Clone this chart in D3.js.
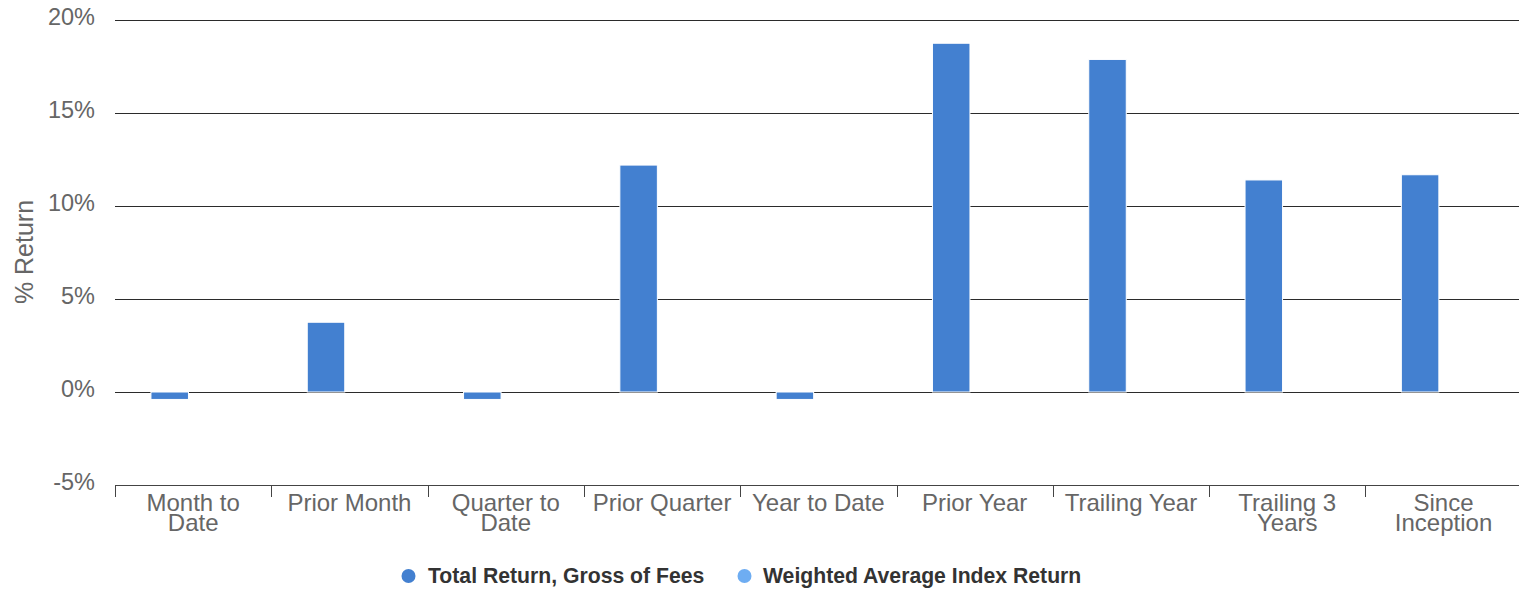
<!DOCTYPE html>
<html>
<head>
<meta charset="utf-8">
<script src="https://cdn.jsdelivr.net/npm/d3@7"></script>
<style>
  html, body { margin: 0; padding: 0; background: #fff; }
  svg { display: block; font-family: "Liberation Sans", Arial, Helvetica, sans-serif; }
</style>
</head>
<body>
<svg id="chart" width="1519" height="590"></svg>
<script>
const categories = [
  ["Month to", "Date"],
  ["Prior Month"],
  ["Quarter to", "Date"],
  ["Prior Quarter"],
  ["Year to Date"],
  ["Prior Year"],
  ["Trailing Year"],
  ["Trailing 3", "Years"],
  ["Since", "Inception"]
];
const seriesNames = ["Total Return, Gross of Fees", "Weighted Average Index Return"];
const totalReturn = [-0.4, 3.75, -0.4, 12.2, -0.4, 18.75, 17.88, 11.4, 11.68];
const indexReturn = [null, null, null, null, null, null, null, null, null];
const seriesColors = ["#4380d0", "#6eadf2"];
const yTicks = [-5, 0, 5, 10, 15, 20];

(function () {
const svg = d3.select("#chart");
const pLeft = 115, pRight = 1521.7, pTop = 20, pBottom = 485;

const catKeys = categories.map(c => c.join(" "));
const x0 = d3.scaleBand().domain(catKeys).range([pLeft, pRight]).padding(0);
const bw = x0.bandwidth();
const x1 = d3.scaleBand().domain(seriesNames)
  .range([0.2 * bw, 0.8 * bw]).paddingInner(0.2).paddingOuter(0.1);
const y = d3.scaleLinear().domain([-5, 20]).range([pBottom, pTop]);

// Gridlines
const grid = svg.append("g");
grid.selectAll("line").data(yTicks.filter(t => t !== -5)).join("line")
  .attr("x1", pLeft).attr("x2", 1519)
  .attr("y1", d => Math.round(y(d)) + 0.5).attr("y2", d => Math.round(y(d)) + 0.5)
  .attr("stroke", "#2b2b2b").attr("stroke-width", 1);

// Y axis labels
const yAxis = d3.axisLeft(y).tickValues(yTicks).tickFormat(d => d + "%").tickSize(0).tickPadding(0);
const yg = svg.append("g").attr("transform", `translate(95,0)`).call(yAxis);
yg.select(".domain").remove();
yg.selectAll("text")
  .attr("font-size", 23.5).attr("fill", "#666")
  .attr("font-family", "'Liberation Sans', Arial, sans-serif")
  .attr("dy", "0.2em");

// Y title
svg.append("text")
  .attr("transform", `translate(33,252) rotate(-90)`)
  .attr("text-anchor", "middle")
  .attr("font-size", 25).attr("fill", "#666")
  .text("% Return");

// Bars
const seriesData = [totalReturn, indexReturn];
seriesData.forEach((vals, si) => {
  svg.append("g").selectAll("rect")
    .data(vals.map((v, i) => ({ v, cat: catKeys[i] })).filter(d => d.v !== null))
    .join("rect")
    .attr("x", d => x0(d.cat) + x1(seriesNames[si]))
    .attr("width", x1.bandwidth())
    .attr("y", d => y(Math.max(0, d.v)))
    .attr("height", d => Math.abs(y(d.v) - y(0)))
    .attr("fill", seriesColors[si])
    .attr("stroke", "#fff").attr("stroke-width", 1);
});

// X axis line
svg.append("line").attr("x1", pLeft).attr("x2", 1519)
  .attr("y1", pBottom + 0.5).attr("y2", pBottom + 0.5)
  .attr("stroke", "#444").attr("stroke-width", 1);
// category tick marks at band boundaries
svg.append("g").selectAll("line").data(catKeys).join("line")
  .attr("x1", d => Math.round(x0(d)) + 0.5).attr("x2", d => Math.round(x0(d)) + 0.5)
  .attr("y1", pBottom).attr("y2", pBottom + 12)
  .attr("stroke", "#444").attr("stroke-width", 1);

// X labels
const xl = svg.append("g");
categories.forEach((lines, i) => {
  const cx = x0(catKeys[i]) + bw / 2;
  const t = xl.append("text")
    .attr("text-anchor", "middle")
    .attr("font-size", 24).attr("fill", "#666");
  lines.forEach((ln, j) => {
    t.append("tspan").attr("x", cx).attr("y", 511 + j * 20).text(ln);
  });
});

// Legend
const legendItems = [
  { name: seriesNames[0], color: seriesColors[0], cx: 408.5, tx: 428 },
  { name: seriesNames[1], color: seriesColors[1], cx: 744.5, tx: 763 }
];
const lg = svg.append("g");
legendItems.forEach(it => {
  lg.append("circle").attr("cx", it.cx).attr("cy", 576).attr("r", 7).attr("fill", it.color);
  lg.append("text").attr("x", it.tx).attr("y", 583)
    .attr("font-size", 21.2).attr("font-weight", "bold").attr("fill", "#333")
    .text(it.name);
});
})();
</script>
</body>
</html>
